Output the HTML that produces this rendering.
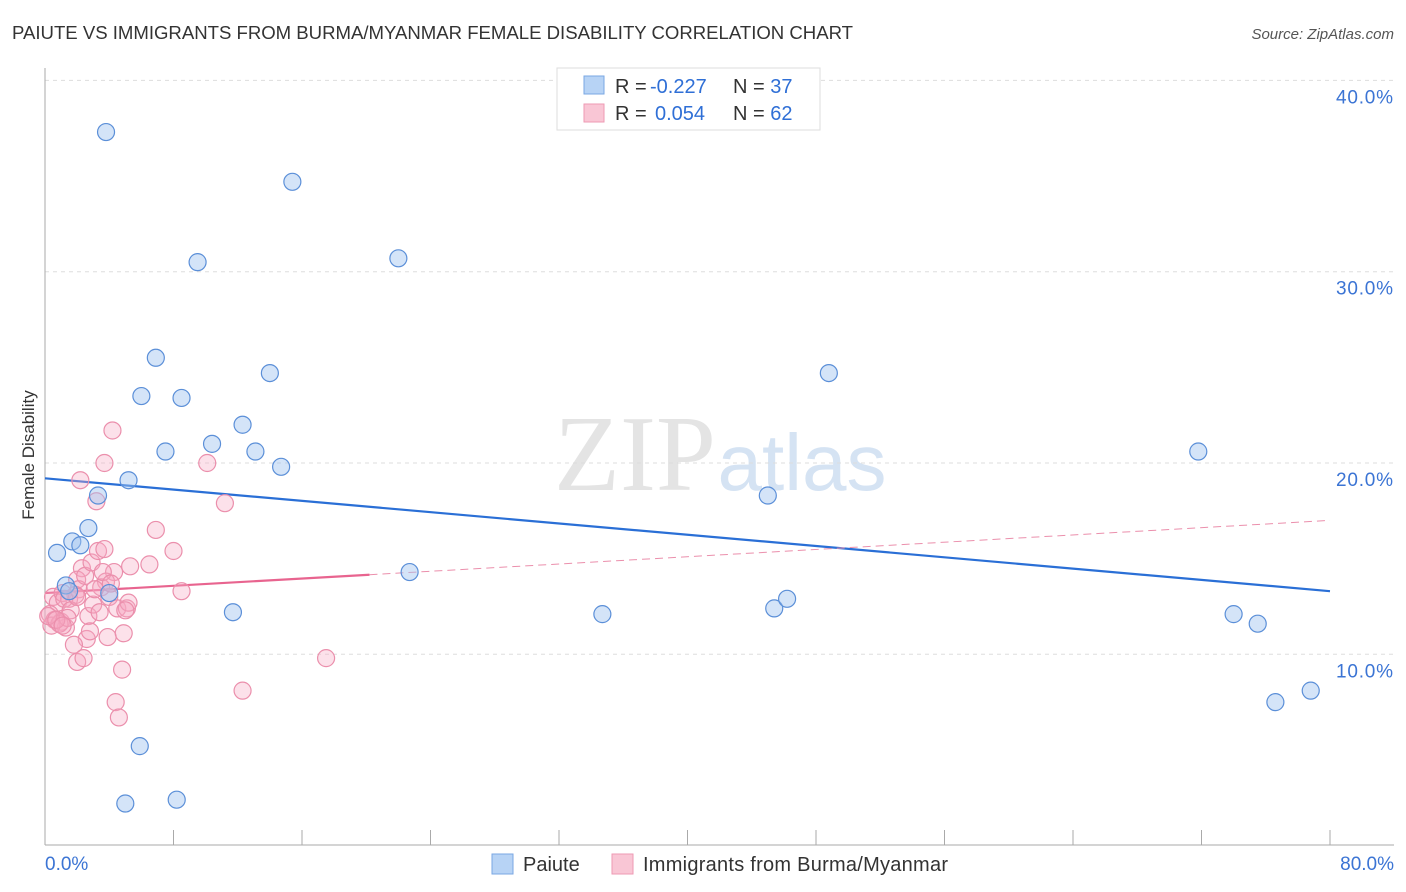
<!DOCTYPE html>
<html><head><meta charset="utf-8">
<style>
body{margin:0;background:#fff;font-family:"Liberation Sans",sans-serif;}
#wrap{position:relative;width:1406px;height:892px;overflow:hidden;}
</style></head>
<body>
<div id="wrap">
<svg id="chart" width="1406" height="892" xmlns="http://www.w3.org/2000/svg">
<text x="12" y="39" font-size="18.6" fill="#333" textLength="841">PAIUTE VS IMMIGRANTS FROM BURMA/MYANMAR FEMALE DISABILITY CORRELATION CHART</text>
<text x="1394" y="39" font-size="15" fill="#555" font-style="italic" text-anchor="end">Source: ZipAtlas.com</text>
<text x="34" y="455" font-size="17" fill="#333" transform="rotate(-90 34 455)" text-anchor="middle">Female Disability</text>
<g>
<text x="635" y="490" font-size="108" fill="#e4e4e4" font-family="Liberation Serif,serif" text-anchor="middle">ZIP</text>
<text x="802" y="490" font-size="80" fill="#d5e3f3" text-anchor="middle">atlas</text>
</g>
<g id="grid"></g><g id="axes"></g><g id="lines"></g><g id="pts"></g>
<g>
<rect x="557" y="68" width="263" height="62" fill="#fff" stroke="#ddd"/>
<rect x="584" y="76" width="20" height="18" fill="#b7d3f5" stroke="#7aa7e3"/>
<rect x="584" y="104" width="20" height="18" fill="#f9c6d5" stroke="#ee9ab3"/>
<text x="615" y="93" font-size="20" fill="#333">R = <tspan fill="#2f6fd6" x="650">-0.227</tspan><tspan x="733">N = </tspan><tspan fill="#2f6fd6">37</tspan></text>
<text x="615" y="120" font-size="20" fill="#333">R = <tspan fill="#2f6fd6" x="655">0.054</tspan><tspan x="733">N = </tspan><tspan fill="#2f6fd6">62</tspan></text>
</g>
<g>
<rect x="492" y="854" width="21" height="20" fill="#b7d3f5" stroke="#7aa7e3"/>
<text x="523" y="871" font-size="20" fill="#333">Paiute</text>
<rect x="612" y="854" width="21" height="20" fill="#f9c6d5" stroke="#ee9ab3"/>
<text x="643" y="871" font-size="20" fill="#333" textLength="305">Immigrants from Burma/Myanmar</text>
</g>
</svg>
</div>
<script>
const blueX=[3.8,15.4,9.5,22.0,6.9,14.0,6.0,8.5,12.3,10.4,7.5,13.1,14.7,5.2,3.3,2.7,1.7,2.2,0.75,22.7,4.0,1.3,11.7,34.7,45.4,46.2,45.0,48.8,71.8,74.0,75.5,76.6,78.8,5.9,5.0,8.2,1.5];
const blueY=[37.3,34.7,30.5,30.7,25.5,24.7,23.5,23.4,22.0,21.0,20.6,20.6,19.8,19.1,18.3,16.6,15.9,15.7,15.3,14.3,13.2,13.6,12.2,12.1,12.4,12.9,18.3,24.7,20.6,12.1,11.6,7.5,8.1,5.2,2.2,2.4,13.3];
const pinkX=[4.2,3.7,10.1,2.2,3.2,11.2,6.9,8.0,5.3,6.5,8.5,4.3,3.8,2.3,2.0,2.1,17.5,12.3,4.4,4.6,4.8,2.0,0.5,0.8,1.1,1.5,1.9,0.3,0.6,1.0,1.3,2.7,3.0,3.4,3.5,4.0,4.5,5.1,5.2,1.2,1.6,2.5,2.9,3.3,3.7,0.4,0.9,1.4,2.6,3.9,4.9,2.8,1.8,2.4,3.1,0.2,0.7,1.1,3.6,4.1,5.0,2.0];
const pinkY=[21.7,20.0,20.0,19.1,18.0,17.9,16.5,15.4,14.6,14.7,13.3,14.3,13.8,14.5,13.9,13.4,9.8,8.1,7.5,6.7,9.2,9.6,13.0,12.7,13.2,12.9,13.1,12.1,11.8,11.7,11.4,12.0,12.6,12.2,13.5,13.0,12.4,12.4,12.7,12.9,12.3,14.1,14.8,15.4,15.5,11.5,11.6,11.9,10.8,10.9,11.1,11.2,10.5,9.8,13.4,12.0,11.8,11.5,14.3,13.7,12.3,13.0];
const blueLine=[19.2,13.3];
const pinkLine=[13.2,17.0];
const pinkSolidEnd=20.2;
const yTicks=[10,20,30,40];
const xTickLabels=["0.0%","80.0%"];
const X=v=>45+v*(1285/80), Y=v=>845.6-v*19.13;
const NS="http://www.w3.org/2000/svg";
function mk(tag,attrs,parent){const e=document.createElementNS(NS,tag);for(const k in attrs)e.setAttribute(k,attrs[k]);document.getElementById(parent).appendChild(e);return e;}
yTicks.forEach(t=>{
 const l=mk('line',{x1:45,x2:1394,y1:Y(t),y2:Y(t),stroke:'#ddd','stroke-dasharray':'4,4'},'grid');
 
 
 const tx=mk('text',{x:1393,y:Y(t)+23,'font-size':19,fill:'#3b74d4','text-anchor':'end',textLength:57},'grid');tx.textContent=t.toFixed(1)+'%';
 
 
});
const ax=mk('line',{x1:45,x2:1394,y1:845,y2:845,stroke:'#aaa'},'axes');


const ay=mk('line',{x1:45,x2:45,y1:68,y2:845,stroke:'#aaa'},'axes');


for(let i=0;i<=10;i++){const t=mk('line',{x1:X(i*8),x2:X(i*8),y1:830,y2:845,stroke:'#aaa'},'axes');
 
 }
const xl0=mk('text',{x:45,y:870,'font-size':19,fill:'#3b74d4'},'axes');xl0.textContent=xTickLabels[0];


const xl1=mk('text',{x:1394,y:870,'font-size':19,fill:'#3b74d4','text-anchor':'end'},'axes');xl1.textContent=xTickLabels[1];


pinkX.forEach((x,i)=>{const c=mk('circle',{cx:X(x),cy:Y(pinkY[i]),r:8.5,fill:'rgba(246,170,195,0.35)',stroke:'#eb8fac','stroke-width':1.2},'pts');
 
 });
blueX.forEach((x,i)=>{const c=mk('circle',{cx:X(x),cy:Y(blueY[i]),r:8.5,fill:'rgba(160,195,240,0.45)',stroke:'#5b8fd8','stroke-width':1.2},'pts');
 
 });
const bl=mk('line',{x1:X(0),y1:Y(blueLine[0]),x2:X(80),y2:Y(blueLine[1]),stroke:'#2a6fd6','stroke-width':2.2},'lines');


const py=x=>pinkLine[0]+(pinkLine[1]-pinkLine[0])*x/80;
const pd=mk('line',{x1:X(pinkSolidEnd),y1:Y(py(pinkSolidEnd)),x2:X(80),y2:Y(py(80)),stroke:'#eb8fac','stroke-width':1,'stroke-dasharray':'8,5'},'lines');


const ps=mk('line',{x1:X(0),y1:Y(py(0)),x2:X(pinkSolidEnd),y2:Y(py(pinkSolidEnd)),stroke:'#e8648f','stroke-width':2.2},'lines');


</script>
</body></html>
